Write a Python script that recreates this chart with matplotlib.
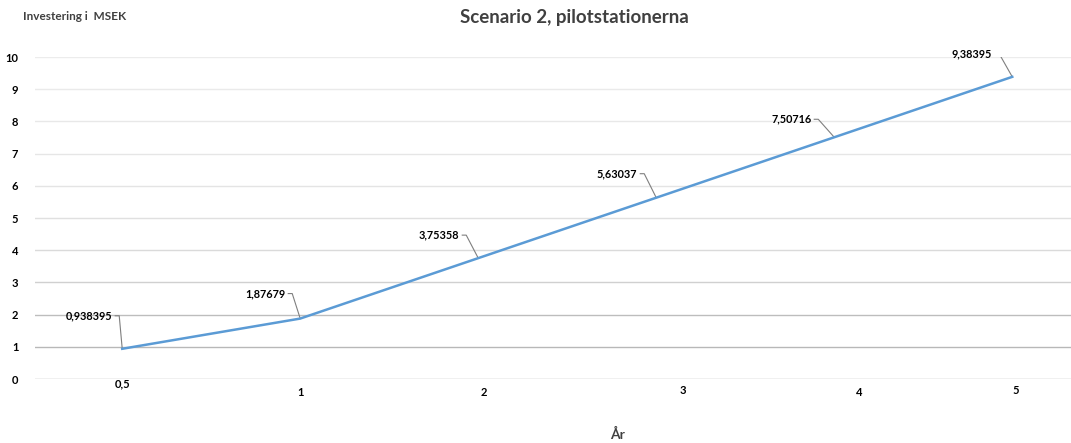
import matplotlib.pyplot as plt
from matplotlib.transforms import offset_copy, blended_transform_factory

plt.rcParams['font.family'] = ['Lato', 'DejaVu Sans']

# data
ar = ['0,5', '1', '2', '3', '4', '5']
investering = [0.938395, 1.87679, 3.75358, 5.63037, 7.50716, 9.38395]
etiketter = ['0,938395', '1,87679', '3,75358', '5,63037', '7,50716', '9,38395']

x = list(range(len(ar)))
# placering av kategorietiketterna (x-läge, nedflyttning i pixlar)
tick_x = [0, 1, 2.03, 3.15, 4.14, 5.02]
tick_dy = [2, 11, 10, 8, 11, 9]
# förskjutning av värdeetiketterna i pixlar (dx, dy)
lbl_off = [(-10, 33), (-15, 25), (-19, 23), (-19, 24), (-23, 18), (-20, 23)]

fig = plt.figure(figsize=(10.71, 4.43), dpi=100)
ax = fig.add_axes([35 / 1071, 64 / 443, 1036 / 1071, 322 / 443])
ax.set_xlim(-0.49, 5.33)
ax.set_ylim(0, 10)

# rutnät, mörkare längst ner
grid_col = ['#b4b4b4', '#b8b8b8', '#bdbdbd', '#d0d0d0', '#dadada', '#e0e0e0',
            '#e4e4e4', '#e6e6e6', '#e8e8e8', '#eaeaea', '#ececec']
for v in range(11):
    ax.axhline(v, color=grid_col[v], lw=1.0, zorder=1)

ax.plot(x, investering, color='#5b9bd5', lw=1.8, zorder=3)

for i, (xi, yi) in enumerate(zip(x, investering)):
    dx, dy = lbl_off[i]
    ax.annotate(etiketter[i], (xi, yi), xytext=(dx, dy), textcoords='offset pixels',
                ha='right', va='center', fontsize=7.8, fontweight='bold', color='black')
    # hänvisningslinje: kort vågrät bit och sedan snett ner till punkten
    t1 = offset_copy(ax.transData, fig=fig, x=dx + 3, y=dy, units='dots')
    t2 = offset_copy(ax.transData, fig=fig, x=dx + 7, y=dy, units='dots')
    p1 = t1.transform((xi, yi))
    p2 = t2.transform((xi, yi))
    p3 = ax.transData.transform((xi, yi))
    xs, ys = zip(*[p1, p2, p3])
    ax.plot(xs, ys, transform=None, color='#7f7f7f', lw=0.8, zorder=2)

for sp in ax.spines.values():
    sp.set_visible(False)
ax.set_xticks([])
ax.set_yticks(range(11))
ax.tick_params(axis='y', length=0, pad=12)
for t in ax.get_yticklabels():
    t.set_fontweight('bold')
    t.set_fontsize(8)

trans = blended_transform_factory(ax.transData, ax.transAxes)
for i, lab in enumerate(ar):
    tt = offset_copy(trans, fig=fig, x=0, y=-tick_dy[i] - 3, units='dots')
    ax.text(tick_x[i], 0, lab, transform=tt, ha='center', va='center',
            fontsize=8, fontweight='bold', color='black')

fig.text(574 / 1071, 1 - 18 / 443, 'Scenario 2, pilotstationerna', ha='center', va='center',
         fontsize=13.5, fontweight='bold', color='#404040')
fig.text(23 / 1071, 1 - 17 / 443, 'Investering i  MSEK', ha='left', va='center',
         fontsize=8.5, fontweight='bold', color='#404040')
fig.text(618 / 1071, 1 - 434 / 443, 'År', ha='center', va='center',
         fontsize=10, fontweight='bold', color='#404040')

fig.savefig('out.png', dpi=100)
